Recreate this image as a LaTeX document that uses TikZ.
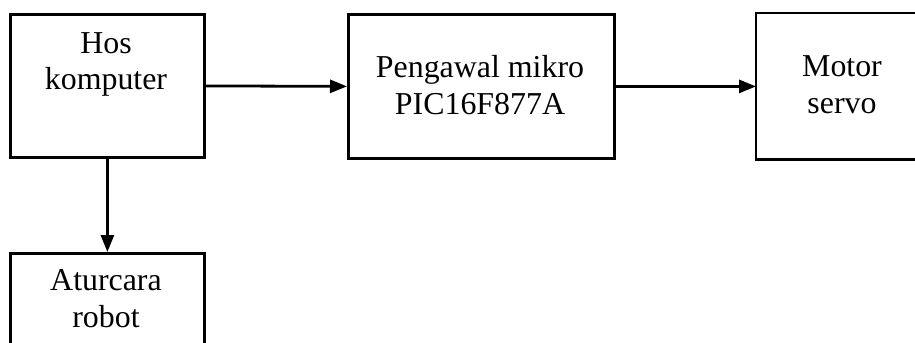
\documentclass[tikz,border=0pt]{standalone}
\usepackage{fontspec}
\setmainfont{Liberation Serif}
\usetikzlibrary{arrows.meta}
\begin{document}
\begin{tikzpicture}[x=1bp,y=-1bp,
  blk/.style={draw=black, line width=2.8bp, rectangle, inner sep=0pt, anchor=north west},
  edge/.style={line width=2.8bp, line join=miter},
  lbl/.style={align=center, inner sep=0pt, font=\fontsize{32}{37}\selectfont},
  conn/.style={line width=2.8bp, -{Triangle[length=17bp,width=13bp]}}]
\path[use as bounding box] (0,0) rectangle (915,342);
\fill[white] (0,0) rectangle (915,342);
\node[blk, minimum width=194bp, minimum height=143bp] (hos) at (9,13) {};
\node[blk, minimum width=266bp, minimum height=144bp] (peng) at (347,13) {};
\node[blk, draw=none, minimum width=172bp, minimum height=144bp] (motor) at (756,13) {};
\draw[edge] ([xshift=20bp]motor.north east) -- (motor.north west) -- (motor.south west) -- ([xshift=20bp]motor.south east);
\node[blk, minimum width=194bp, minimum height=110bp] (atur) at (9,252) {};
\node[lbl] (hostxt) at (106,64.5) {Hos\\komputer};
\node[lbl] (pengtxt) at (480,85) {Pengawal mikro\\PIC16F877A};
\node[lbl] (motortxt) at (842,85) {Motor\\servo};
\node[lbl] (aturtxt) at (106,299) {Aturcara\\robot};
\draw[conn] (hos.east) -- (peng.west);
\draw[conn] (peng.east) -- (motor.west);
\draw[conn] (hos.south) -- (atur.north);
\end{tikzpicture}
\end{document}
